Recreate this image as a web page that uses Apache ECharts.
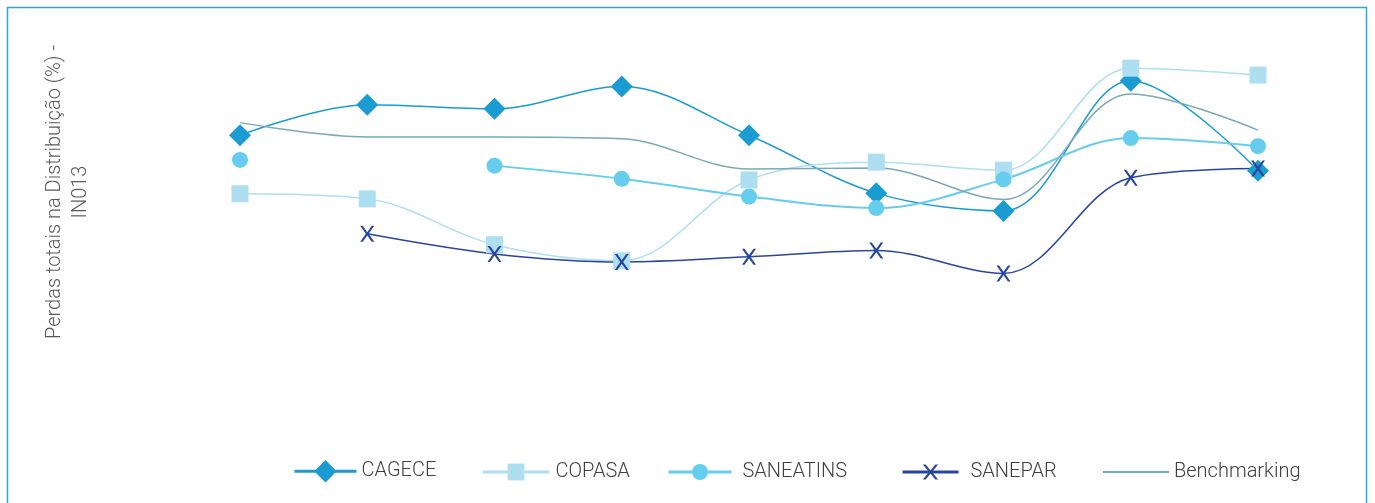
<!DOCTYPE html>
<html>
<head>
<meta charset="utf-8">
<script src="https://cdn.jsdelivr.net/npm/echarts@6/dist/echarts.min.js"></script>
<style>
  html, body { margin: 0; padding: 0; background: #fff; }
  #chart { width: 1375px; height: 503px; }
</style>
</head>
<body>
<div id="chart"></div>
<script>
var chartDom = document.getElementById('chart');
var myChart = echarts.init(chartDom);
var option;

// 9 points per series, no labels on the x axis in the original
var categories = ['1', '2', '3', '4', '5', '6', '7', '8', '9'];

var cagece = [39.9, 45.2, 44.5, 48.4, 39.9, 29.8, 26.7, 49.4, 33.7];
var copasa = [29.7, 28.8, 20.8, 18.0, 32.1, 35.2, 33.8, 51.6, 50.4];
var saneatins = [35.6, null, 34.6, 32.3, 29.2, 27.2, 32.2, 39.4, 38.0];
var sanepar = [null, 22.7, 19.2, 17.8, 18.7, 19.8, 15.8, 32.5, 34.1];
var benchmarking = [42.1, 39.6, 39.6, 39.3, 34.0, 34.2, 28.7, 47.1, 40.8];

var crossSymbol = 'path://M0,0L2.5,0L7,6.3L11.5,0L14,0L8.4,8L14,16L11.5,16L7,9.7L2.5,16L0,16L5.6,8Z';

var textColor = '#404040';
var fontFamily = 'Roboto';

function legendItem(name, left, top, width, height, gap) {
  return {
    data: [name],
    left: left,
    top: top,
    padding: 0,
    itemWidth: width,
    itemHeight: height,
    lineStyle: { width: 3 },
    textStyle: {
      color: textColor,
      fontSize: 20,
      fontFamily: fontFamily,
      fontWeight: 300,
      padding: [0, 0, 0, gap]
    }
  };
}

var benchLegend = legendItem('Benchmarking', 1102, 462, 66, 16, 0);
benchLegend.itemStyle = { opacity: 0 };
benchLegend.lineStyle = { width: 2 };

option = {
  animation: false,
  backgroundColor: '#ffffff',
  graphic: [
    {
      type: 'rect',
      shape: { x: 7.5, y: 7.5, width: 1359, height: 520 },
      style: { fill: 'none', stroke: '#2aa8df', lineWidth: 1.5 }
    }
  ],
  legend: [
    legendItem('CAGECE', 293, 460, 62, 28, 0),
    legendItem('COPASA', 481, 462, 67, 21, 1),
    legendItem('SANEATINS', 667, 462, 63, 20, 6),
    legendItem('SANEPAR', 901, 462, 56, 19, 7),
    benchLegend
  ],
  grid: {
    left: 240,
    right: 117,
    top: 20,
    bottom: 139
  },
  xAxis: {
    type: 'category',
    data: categories,
    boundaryGap: false,
    axisLine: { show: false },
    axisTick: { show: false },
    axisLabel: { show: false },
    splitLine: { show: false }
  },
  yAxis: {
    type: 'value',
    min: 0,
    max: 60,
    name: 'Perdas totais na Distribuição (%) -\nIN013',
    nameLocation: 'middle',
    nameRotate: 90,
    nameGap: 146,
    nameTextStyle: {
      color: '#595959',
      fontSize: 20,
      fontFamily: fontFamily,
      fontWeight: 300,
      lineHeight: 26
    },
    axisLine: { show: false },
    axisTick: { show: false },
    axisLabel: { show: false },
    splitLine: { show: false }
  },
  series: [
    {
      name: 'CAGECE',
      type: 'line',
      smooth: 0.35,
      color: '#1a9bd2',
      symbol: 'diamond',
      symbolSize: 22,
      lineStyle: { width: 1.5 },
      data: cagece
    },
    {
      name: 'COPASA',
      type: 'line',
      smooth: 0.35,
      color: '#aedff0',
      symbol: 'rect',
      symbolSize: 17,
      lineStyle: { width: 1.5 },
      data: copasa
    },
    {
      name: 'SANEATINS',
      type: 'line',
      smooth: 0.35,
      color: '#66cdee',
      symbol: 'circle',
      symbolSize: 16,
      lineStyle: { width: 2 },
      data: saneatins
    },
    {
      name: 'SANEPAR',
      type: 'line',
      smooth: 0.35,
      color: '#27459c',
      symbol: crossSymbol,
      symbolSize: [14, 16],
      lineStyle: { width: 1.5 },
      data: sanepar
    },
    {
      name: 'Benchmarking',
      type: 'line',
      smooth: 0.35,
      color: '#79a9b7',
      symbol: 'none',
      lineStyle: { width: 1.5 },
      data: benchmarking
    }
  ]
};

option && myChart.setOption(option);
</script>
</body>
</html>
